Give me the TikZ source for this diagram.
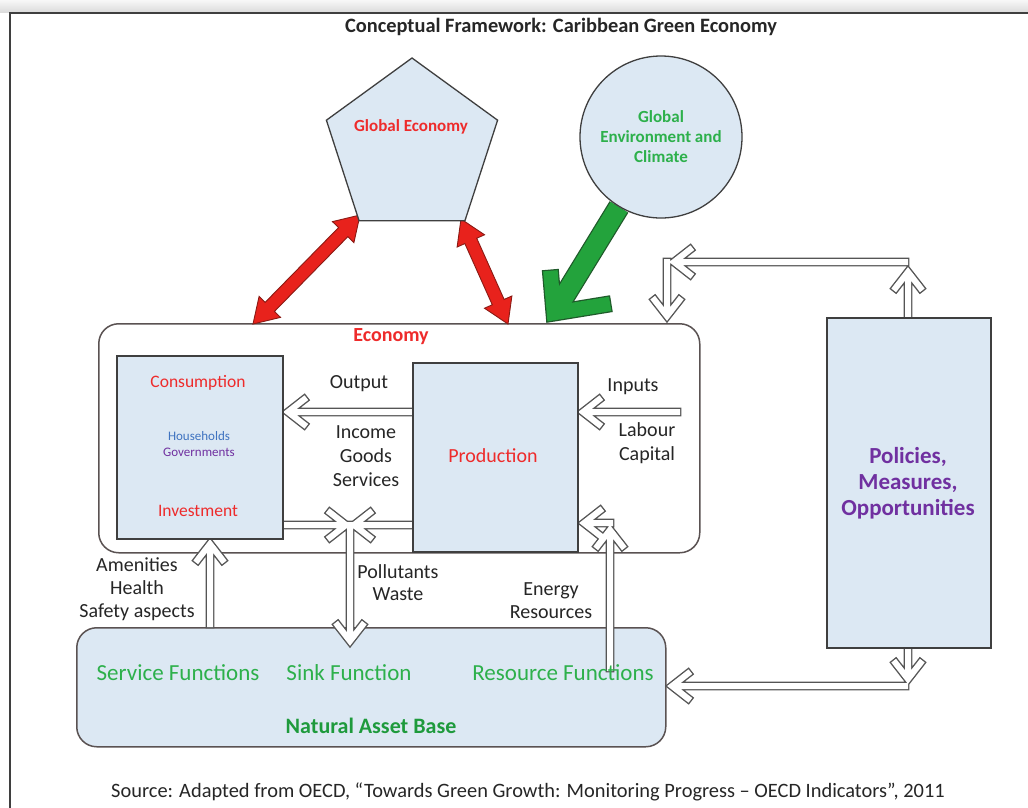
\documentclass[tikz,border=0pt]{standalone}
\usepackage{fontspec}
\setmainfont{Carlito}
\usetikzlibrary{calc,shapes.geometric}

\definecolor{paleblue}{HTML}{DCE8F3}
\definecolor{edge}{HTML}{3F3F3F}
\definecolor{ecoedge}{HTML}{5A5252}
\definecolor{hredtxt}{HTML}{EE2B2B}
\definecolor{hgreen}{HTML}{2DB04B}
\definecolor{dgreen}{HTML}{1E9A3C}
\definecolor{hpurple}{HTML}{7030A0}
\definecolor{hblue}{HTML}{3F73C0}
\definecolor{ink}{HTML}{262626}
\definecolor{arrowline}{HTML}{555555}
\definecolor{redfill}{HTML}{E8221C}
\definecolor{rededge}{HTML}{8A1A14}
\definecolor{greenfill}{HTML}{23A33C}
\definecolor{greenedge}{HTML}{1F5A2A}

\pgfdeclarelayer{back}
\pgfdeclarelayer{mid}
\pgfsetlayers{back,mid,main}

\newcommand{\fsz}[2]{\fontsize{#1}{#2}\selectfont}

% filled double-headed block arrow between two named points
\newcommand{\blockarrow}[2]{%
  \filldraw[redarrow] (#1)
    -- ($(#1)!24pt!(#2)!15pt!90:(#2)$)
    -- ($(#1)!24pt!(#2)!6.5pt!90:(#2)$)
    -- ($(#2)!24pt!(#1)!6.5pt!-90:(#1)$)
    -- ($(#2)!24pt!(#1)!15pt!-90:(#1)$)
    -- (#2)
    -- ($(#2)!24pt!(#1)!15pt!90:(#1)$)
    -- ($(#2)!24pt!(#1)!6.5pt!90:(#1)$)
    -- ($(#1)!24pt!(#2)!6.5pt!-90:(#2)$)
    -- ($(#1)!24pt!(#2)!15pt!-90:(#2)$)
    -- cycle;}

\begin{document}
\begin{tikzpicture}[x=1pt,y=-1pt,
  box/.style={draw=edge, line width=1.5pt, fill=paleblue, inner sep=0pt, anchor=north west},
  roundbox/.style={box, rounded corners=20pt},
  lbl/.style={font=\fsz{20}{24}, text=ink, align=center, inner sep=0pt},
  redlbl/.style={text=hredtxt, inner sep=0pt, align=center},
  greenlbl/.style={font=\fsz{23}{27}, text=hgreen, inner sep=0pt},
  redarrow/.style={fill=redfill, draw=rededge, line width=0.9pt, line join=miter},
  hollow/.style={draw=arrowline, line width=1.4pt, double=white, double distance=6pt,
    line cap=rect, line join=miter},
  tiphead/.style 2 args={insert path={($(#2)!16pt!(#1)!12.5pt!90:(#2)$) -- (#2)
    -- ($(#2)!16pt!(#1)!12.5pt!-90:(#2)$)}},
]
\useasboundingbox (0,0) rectangle (1028,807);

% page, top shadow strip and frame
\begin{pgfonlayer}{back}
  \fill[white] (0,0) rectangle (1028,807);
  \shade[top color=gray!6, bottom color=gray!28] (0,0) rectangle (1028,12);
  \draw[line width=2pt, edge] (1040,13) -- (10,13) -- (10,820);
\end{pgfonlayer}

% ---------- large frames ----------
\begin{pgfonlayer}{back}
  \node[roundbox, fill=white, draw=ecoedge, minimum width=601, minimum height=229] (eco) at (98,323) {};
  \node[roundbox, draw=ecoedge, minimum width=589, minimum height=119] (nab) at (76,627) {};
\end{pgfonlayer}

% ---------- inner boxes and outside shapes ----------
\node[box, minimum width=166, minimum height=183] (cons) at (116,355) {};
\node[box, minimum width=165, minimum height=189] (prod) at (412,362) {};
\node[box, minimum width=164, minimum height=330] (pol) at (826,317) {};
\node[regular polygon, regular polygon sides=5, minimum size=180, inner sep=0pt,
      draw=edge, line width=1.3pt, fill=paleblue] (ge) at (412,148) {};
\node[circle, minimum size=162, inner sep=0pt, draw=edge, line width=1.3pt,
      fill=paleblue] (env) at (661,137) {};

% ---------- connector end points ----------
\coordinate (outA) at (430,412);   \coordinate (outB) at (288,412);
\coordinate (inA)  at (677,412);   \coordinate (inB)  at (583,412);
\coordinate (invA) at (270,525);   \coordinate (invB) at (346,525);
\coordinate (prA)  at (430,525);   \coordinate (prB)  at (354,525);
\coordinate (sinkA) at (350,525);  \coordinate (sinkB) at (350,641);
\coordinate (amA)  at (210,624);   \coordinate (amB)  at (210,544);
\coordinate (enA)  at (610,668);   \coordinate (enB)  at (610,530);
\coordinate (enC)  at (610,523);   \coordinate (enD)  at (584,523);
\coordinate (ptA)  at (908,325);   \coordinate (ptB)  at (908,272);
\coordinate (tkA)  at (905,262);   \coordinate (tkB)  at (674,262);
\coordinate (tdA)  at (667,262);   \coordinate (tdB)  at (667,316);
\coordinate (pbA)  at (908,640);   \coordinate (pbB)  at (908,679);
\coordinate (bkA)  at (905,686);   \coordinate (bkB)  at (672,686);

\coordinate (r1a) at (253,324);    \coordinate (r1b) at (360,215);
\coordinate (r2a) at (508,324);    \coordinate (r2b) at (461,219);
\coordinate (gtip) at (554,313);
\coordinate (garm1) at (551,278);  \coordinate (garm2) at (603,305);

% ---------- connectors ----------
\begin{pgfonlayer}{mid}
  % global links
  \blockarrow{r1a}{r1b}
  \blockarrow{r2a}{r2b}
  \draw[greenedge, line width=22pt] (env.-121) -- ($(gtip)!9pt!(env.-121)$);
  \draw[greenedge, line width=17pt, line cap=rect, line join=miter] (garm1) -- (gtip) -- (garm2);
  \draw[greenfill, line width=19.5pt] (env.-121) -- ($(gtip)!9pt!(env.-121)$);
  \draw[greenfill, line width=14.5pt, line cap=rect, line join=miter] (garm1) -- (gtip) -- (garm2);

  % flows inside the economy
  \draw[hollow] (outA) -- ($(outB)!5pt!(outA)$) [tiphead={outA}{outB}];
  \draw[hollow] (inA) -- ($(inB)!5pt!(inA)$) [tiphead={inA}{inB}];
  \draw[hollow] (sinkA) -- ($(sinkB)!5pt!(sinkA)$) [tiphead={sinkA}{sinkB}]
                (invA) -- ($(invB)!5pt!(invA)$) [tiphead={invA}{invB}]
                (prA) -- ($(prB)!5pt!(prA)$) [tiphead={prA}{prB}];
  \draw[hollow] (amA) -- ($(amB)!5pt!(amA)$) [tiphead={amA}{amB}];
  \draw[hollow] (enA) -- ($(enB)!5pt!(enA)$) [tiphead={enA}{enB}]
                (enC) -- ($(enD)!5pt!(enC)$) [tiphead={enC}{enD}];

  % policy links
  \draw[hollow] (ptA) -- ($(ptB)!5pt!(ptA)$) [tiphead={ptA}{ptB}]
                (tkA) -- ($(tkB)!5pt!(tkA)$) [tiphead={tkA}{tkB}]
                (tdA) -- ($(tdB)!5pt!(tdA)$) [tiphead={tdA}{tdB}];
  \draw[hollow] (pbA) -- ($(pbB)!5pt!(pbA)$) [tiphead={pbA}{pbB}]
                (bkA) -- ($(bkB)!5pt!(bkA)$) [tiphead={bkA}{bkB}];
\end{pgfonlayer}

% ---------- texts ----------
\node[font=\bfseries\fsz{20.4}{24}, text=ink, inner sep=0pt] (title) at (561,27)
  {Conceptual Framework: Caribbean Green Economy};
\node[redlbl, font=\bfseries\fsz{17}{20}] (geT) at (411,127) {Global Economy};
\node[font=\bfseries\fsz{17}{20}, text=hgreen, align=center, inner sep=0pt] (envT) at (661,137)
  {Global\\Environment and\\Climate};

\node[redlbl, font=\bfseries\fsz{20}{24}] (ecoT) at (391,337) {Economy};
\node[redlbl, font=\fsz{17.5}{21}] (consT) at (198,383) {Consumption};
\node[font=\fsz{13}{16}, text=hblue, inner sep=0pt] (hhT) at (199,436) {Households};
\node[font=\fsz{13}{16}, text=hpurple, inner sep=0pt] (govT) at (199,452) {Governments};
\node[redlbl, font=\fsz{17.5}{21}] (invT) at (198,511) {Investment};
\node[redlbl, font=\fsz{20}{24}] (prodT) at (493,456) {Production};

\node[lbl] (outT) at (359,384) {Output};
\node[lbl] (igsT) at (366,456) {Income\\Goods\\Services};
\node[lbl] (inT) at (633,387) {Inputs};
\node[lbl] (lcT) at (647,443) {Labour\\Capital};
\node[lbl, font=\fsz{20}{23}] (amT) at (137,589) {Amenities\\Health\\Safety aspects};
\node[lbl, font=\fsz{20}{22}] (plT) at (398,583) {Pollutants\\Waste};
\node[lbl, font=\fsz{20}{23}] (erT) at (551,601) {Energy\\Resources};

\node[greenlbl] (sfT) at (178,673) {Service Functions};
\node[greenlbl] (skT) at (349,673) {Sink Function};
\node[greenlbl] (rfT) at (563,673) {Resource Functions};
\node[font=\bfseries\fsz{22}{26}, text=dgreen, inner sep=0pt] (nabT) at (371,726) {Natural Asset Base};

\node[font=\bfseries\fsz{23}{26}, text=hpurple, align=center, inner sep=0pt] (polT) at (908,483)
  {Policies,\\Measures,\\Opportunities};

\node[font=\fsz{20.4}{24}, text=ink, inner sep=0pt] (src) at (528,792)
  {Source: Adapted from OECD, “Towards Green Growth: Monitoring Progress – OECD Indicators”, 2011};
\end{tikzpicture}
\end{document}
